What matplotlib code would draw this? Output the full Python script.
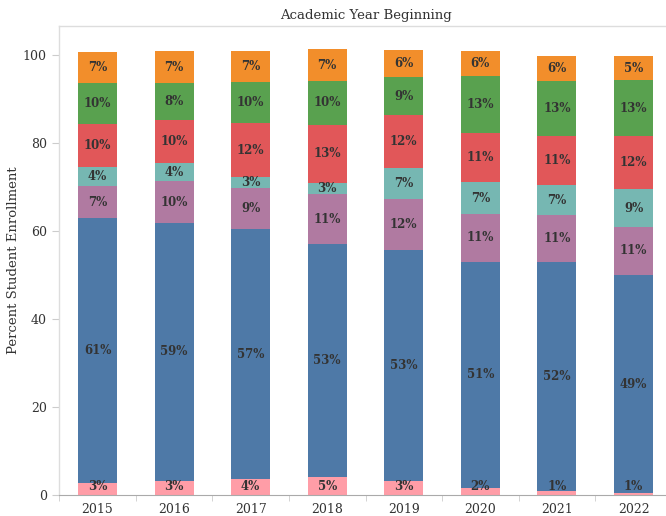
#%%
# Import
import numpy as np
import matplotlib.pyplot as plt


#%%
# Data (percent of student enrollment)

years = ['2015', '2016', '2017', '2018', '2019', '2020', '2021', '2022']

# bar segment heights, bottom to top
pink   = [2.9, 3.3, 3.7, 4.2, 3.3, 1.7, 1.0, 0.5]
blue   = [60.1, 58.6, 56.8, 52.9, 52.5, 51.4, 52.1, 49.6]
purple = [7.3, 9.5, 9.3, 11.4, 11.5, 10.8, 10.6, 10.9]
teal   = [4.3, 4.1, 2.5, 2.5, 7.2, 7.3, 6.8, 8.6]
red    = [9.9, 9.9, 12.3, 13.2, 11.9, 11.1, 11.2, 12.1]
green  = [9.2, 8.3, 9.4, 10.0, 8.7, 13.0, 12.5, 12.7]
orange = [7.1, 7.3, 7.0, 7.2, 6.1, 5.7, 5.6, 5.4]

# printed labels
pink_lbl   = ['3%', '3%', '4%', '5%', '3%', '2%', '1%', '1%']
blue_lbl   = ['61%', '59%', '57%', '53%', '53%', '51%', '52%', '49%']
purple_lbl = ['7%', '10%', '9%', '11%', '12%', '11%', '11%', '11%']
teal_lbl   = ['4%', '4%', '3%', '3%', '7%', '7%', '7%', '9%']
red_lbl    = ['10%', '10%', '12%', '13%', '12%', '11%', '11%', '12%']
green_lbl  = ['10%', '8%', '10%', '10%', '9%', '13%', '13%', '13%']
orange_lbl = ['7%', '7%', '7%', '7%', '6%', '6%', '6%', '5%']

series = [
    (pink,   pink_lbl,   '#FF9DA7'),
    (blue,   blue_lbl,   '#4E79A7'),
    (purple, purple_lbl, '#B07AA1'),
    (teal,   teal_lbl,   '#76B7B2'),
    (red,    red_lbl,    '#E15759'),
    (green,  green_lbl,  '#59A14F'),
    (orange, orange_lbl, '#F28E2B'),
]


#%%
# Plot

plt.rcParams['font.family'] = ['DejaVu Serif']

fig = plt.figure(figsize=(6.66, 5.16), dpi=100)
ax = fig.add_axes([59.2/666, 20.7/516, 612.6/666, 469.3/516])

x = np.arange(len(years))
bottom = np.zeros(len(years))

for vals, lbls, col in series:
    vals = np.array(vals)
    ax.bar(x, vals, width=0.51, bottom=bottom, color=col, linewidth=0)
    for i in range(len(years)):
        yc = max(bottom[i] + vals[i] / 2, 1.9)
        ax.text(x[i], yc, lbls[i], ha='center', va='center',
                fontsize=8.5, fontweight='bold', color='#333333')
    bottom = bottom + vals

ax.set_xlim(-0.5, 7.5)
ax.set_ylim(0, 106.7)

# spines
for s in ['top', 'left']:
    ax.spines[s].set_color('#dddddd')
    ax.spines[s].set_linewidth(1)
ax.spines['right'].set_visible(False)
ax.spines['bottom'].set_color('#aaaaaa')
ax.spines['bottom'].set_linestyle((0, (2, 1)))
ax.spines['bottom'].set_linewidth(0.8)

# ticks
ax.set_xticks(x)
ax.set_xticklabels(years, fontsize=9, color='#333333')
ax.set_xticks(np.arange(-0.5, 8.0, 1.0), minor=True)
ax.tick_params(axis='x', which='major', length=0, pad=5.5)
ax.tick_params(axis='x', which='minor', length=4, color='#cccccc')

ax.set_yticks([0, 20, 40, 60, 80, 100])
ax.tick_params(axis='y', length=5, color='#cccccc', labelsize=9,
               labelcolor='#333333', pad=4)

ax.set_ylabel('Percent Student Enrollment', fontsize=9.5, color='#333333')
ax.yaxis.set_label_coords(-0.064, 0.5)
ax.set_title('Academic Year Beginning', fontsize=9.5, color='#333333', pad=5)

fig.savefig('out.png', dpi=100)
